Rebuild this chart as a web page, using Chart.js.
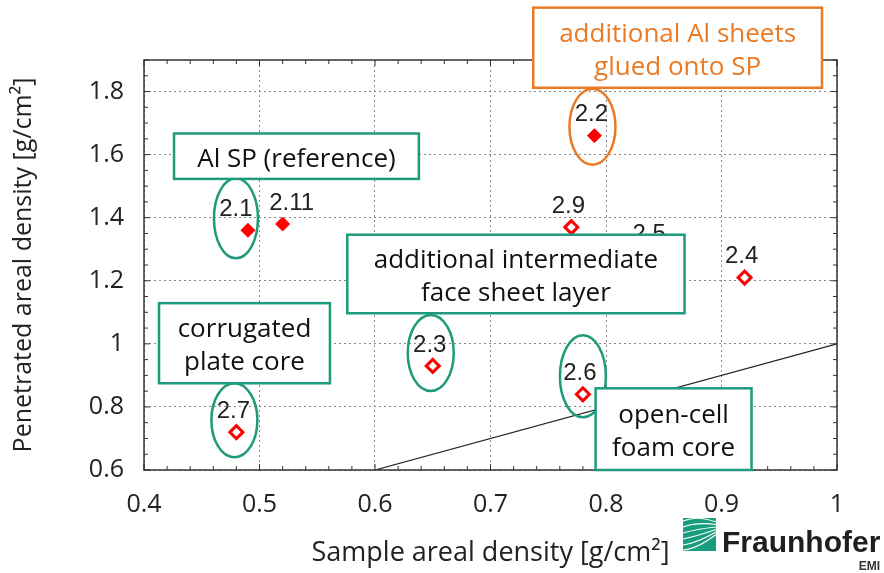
<!DOCTYPE html>
<html>
<head>
<meta charset="utf-8">
<script src="https://cdn.jsdelivr.net/npm/chart.js@4.4.1/dist/chart.umd.min.js"></script>
<style>
  html, body { margin: 0; padding: 0; background: #fff; }
  #wrap { width: 884px; height: 573px; position: relative; }
</style>
</head>
<body>
<div id="wrap"><canvas id="densityChart"></canvas></div>
<script>
// samples with solid markers (reference + glued sheets)
const filledIds = ['2.1', '2.11', '2.2'];
const filledSample = [0.49, 0.52, 0.79];
const filledPenetrated = [1.36, 1.38, 1.66];

// samples with open markers
const openIds = ['2.9', '2.5', '2.4', '2.3', '2.7', '2.6'];
const openSample = [0.77, 0.84, 0.92, 0.65, 0.48, 0.78];
const openPenetrated = [1.37, 1.28, 1.21, 0.93, 0.72, 0.84];

// penetrated = sample line
const equalLineX = [0.6, 1.0];
const equalLineY = [0.6, 1.0];

const xTicks = [0.4, 0.5, 0.6, 0.7, 0.8, 0.9, 1.0];
const yTicks = [0.6, 0.8, 1.0, 1.2, 1.4, 1.6, 1.8];

const green = '#1e9a7c';
const orange = '#ea7a24';
const uiFont = '"Open Sans", "Noto Sans", sans-serif';

// callout boxes, corners in data units
const notes = [
  { lines: ['Al SP (reference)'], x0: 0.426, x1: 0.638, y0: 1.523, y1: 1.667, color: green, text: '#111' },
  { lines: ['additional intermediate', 'face sheet layer'], x0: 0.576, x1: 0.868, y0: 1.097, y1: 1.346, color: green, text: '#111' },
  { lines: ['corrugated', 'plate core'], x0: 0.413, x1: 0.561, y0: 0.875, y1: 1.129, color: green, text: '#111' },
  { lines: ['open-cell', 'foam core'], x0: 0.791, x1: 0.926, y0: 0.6, y1: 0.859, color: green, text: '#111' },
  { lines: ['additional Al sheets', 'glued onto SP'], x0: 0.737, x1: 0.987, y0: 1.812, y1: 2.066, color: orange, text: orange }
];

// rings drawn round single samples (offset from the marker in px)
const rings = [
  { id: '2.1', dx: -12, dy: -12, rx: 22, ry: 40, color: green },
  { id: '2.2', dx: -2, dy: -9, rx: 23, ry: 38, color: orange },
  { id: '2.3', dx: -2, dy: -13, rx: 23, ry: 38, color: green },
  { id: '2.7', dx: -2, dy: -12, rx: 23, ry: 37, color: green },
  { id: '2.6', dx: 0, dy: -18, rx: 23, ry: 41, color: green }
];
const labelNudge = { '2.1': -12, '2.11': 9 };

function markerPos(chart, id) {
  for (let i = 0; i < chart.data.datasets.length; i++) {
    const ds = chart.data.datasets[i];
    if (!ds.ids) continue;
    const j = ds.ids.indexOf(id);
    if (j >= 0) {
      const el = chart.getDatasetMeta(i).data[j];
      return { x: el.x, y: el.y };
    }
  }
  return null;
}

function drawLogo(ctx) {
  const x0 = 683, y0 = 518, s = 33;
  ctx.fillStyle = '#179c7d';
  ctx.fillRect(x0, y0, s, s);
  ctx.strokeStyle = '#fff';
  ctx.lineWidth = 1.2;
  const starts = [3, 9, 15, 21, 27, 32];
  starts.forEach((sy, k) => {
    ctx.beginPath();
    ctx.moveTo(x0, y0 + sy);
    ctx.quadraticCurveTo(x0 + 14, y0 + sy - 6 + k, x0 + s, y0 + 4 + k * 2.5);
    ctx.stroke();
  });
  ctx.fillStyle = '#1f1f1f';
  ctx.font = 'bold 30px "Liberation Sans", Arial, sans-serif';
  ctx.textAlign = 'left';
  ctx.textBaseline = 'alphabetic';
  ctx.fillText('Fraunhofer', 722, 552);
  ctx.font = 'bold 12px "Liberation Sans", Arial, sans-serif';
  ctx.fillStyle = '#333';
  ctx.textAlign = 'right';
  ctx.fillText('EMI', 880, 570);
}

const decorPlugin = {
  id: 'decor',
  afterDatasetsDraw(chart) {
    const { ctx, chartArea: a, scales: { x, y } } = chart;
    ctx.save();

    // frame
    ctx.strokeStyle = '#333';
    ctx.lineWidth = 1.5;
    ctx.strokeRect(a.left, a.top, a.right - a.left, a.bottom - a.top);

    // inward ticks on all four sides
    ctx.lineWidth = 1;
    ctx.beginPath();
    for (let i = 0; i <= 30; i++) {
      const px = x.getPixelForValue(0.4 + i * 0.02);
      const len = i % 5 === 0 ? 6 : 4;
      ctx.moveTo(px, a.bottom); ctx.lineTo(px, a.bottom - len);
      ctx.moveTo(px, a.top); ctx.lineTo(px, a.top + len);
    }
    for (let i = 0; i <= 26; i++) {
      const py = y.getPixelForValue(0.6 + i * 0.05);
      const len = i % 4 === 0 ? 6 : 4;
      ctx.moveTo(a.left, py); ctx.lineTo(a.left + len, py);
      ctx.moveTo(a.right, py); ctx.lineTo(a.right - len, py);
    }
    ctx.stroke();

    // sample numbers above the markers
    ctx.font = '24px "Liberation Sans", Arial, sans-serif';
    ctx.fillStyle = '#222';
    ctx.textAlign = 'center';
    ctx.textBaseline = 'middle';
    filledIds.concat(openIds).forEach(id => {
      const p = markerPos(chart, id);
      const dx = labelNudge[id] !== undefined ? labelNudge[id] : -3;
      ctx.fillText(id, p.x + dx, p.y - 21);
    });

    // rings
    ctx.lineWidth = 2.5;
    rings.forEach(r => {
      const p = markerPos(chart, r.id);
      ctx.strokeStyle = r.color;
      ctx.beginPath();
      ctx.ellipse(p.x + r.dx, p.y + r.dy, r.rx, r.ry, 0, 0, Math.PI * 2);
      ctx.stroke();
    });

    // callout boxes
    ctx.font = '26px ' + uiFont;
    notes.forEach(n => {
      const l = x.getPixelForValue(n.x0), r = x.getPixelForValue(n.x1);
      const t = y.getPixelForValue(n.y1), b = y.getPixelForValue(n.y0);
      ctx.fillStyle = '#fff';
      ctx.fillRect(l, t, r - l, b - t);
      ctx.strokeStyle = n.color;
      ctx.lineWidth = 2.5;
      ctx.strokeRect(l, t, r - l, b - t);
      ctx.fillStyle = n.text;
      const cx = (l + r) / 2, cy = (t + b) / 2 + 3;
      const lh = 33;
      n.lines.forEach((s, k) => {
        ctx.fillText(s, cx, cy + (k - (n.lines.length - 1) / 2) * lh);
      });
    });
    ctx.restore();
  },
  afterDraw(chart) {
    const ctx = chart.ctx;
    ctx.save();
    drawLogo(ctx);
    ctx.restore();
  }
};

const tickFont = { family: uiFont, size: 25 };

new Chart(document.getElementById('densityChart').getContext('2d'), {
  type: 'scatter',
  data: {
    datasets: [
      {
        type: 'line',
        label: 'equal density',
        data: equalLineX.map((v, i) => ({ x: v, y: equalLineY[i] })),
        borderColor: '#222',
        borderWidth: 1.2,
        pointRadius: 0,
        fill: false
      },
      {
        label: 'solid',
        ids: filledIds,
        data: filledSample.map((v, i) => ({ x: v, y: filledPenetrated[i] })),
        pointStyle: 'rectRot',
        pointRadius: 7,
        backgroundColor: '#ff0000',
        borderColor: '#ff0000',
        borderWidth: 1
      },
      {
        label: 'open',
        ids: openIds,
        data: openSample.map((v, i) => ({ x: v, y: openPenetrated[i] })),
        pointStyle: 'rectRot',
        pointRadius: 6.5,
        backgroundColor: '#fff',
        borderColor: '#ff0000',
        borderWidth: 3
      }
    ]
  },
  options: {
    responsive: true,
    maintainAspectRatio: false,
    animation: false,
    layout: { padding: { top: 60, right: 47, left: 0, bottom: 0 } },
    plugins: {
      legend: { display: false },
      tooltip: { enabled: false }
    },
    scales: {
      x: {
        type: 'linear',
        min: 0.4,
        max: 1.0,
        afterBuildTicks: s => { s.ticks = xTicks.map(v => ({ value: v })); },
        afterFit: s => { s.height = 103; },
        grid: { color: '#888', lineWidth: 1, drawTicks: false },
        border: { display: false, dash: [2, 3] },
        ticks: {
          font: tickFont,
          color: '#222',
          padding: 20,
          maxRotation: 0,
          callback: v => String(+v.toFixed(2))
        },
        title: {
          display: true,
          text: 'Sample areal density [g/cm²]',
          font: { family: uiFont, size: 27 },
          color: '#222',
          padding: { top: 0, bottom: 3 }
        }
      },
      y: {
        type: 'linear',
        min: 0.6,
        max: 1.9,
        afterBuildTicks: s => { s.ticks = yTicks.map(v => ({ value: v })); },
        afterFit: s => { s.width = 144; },
        grid: { color: '#888', lineWidth: 1, drawTicks: false },
        border: { display: false, dash: [2, 3] },
        ticks: {
          font: tickFont,
          color: '#222',
          padding: 20,
          callback: v => String(+v.toFixed(2))
        },
        title: {
          display: true,
          text: 'Penetrated areal density [g/cm²]',
          font: { family: uiFont, size: 25 },
          color: '#222',
          padding: { top: 9, bottom: 0 }
        }
      }
    }
  },
  plugins: [decorPlugin]
});
</script>
</body>
</html>
